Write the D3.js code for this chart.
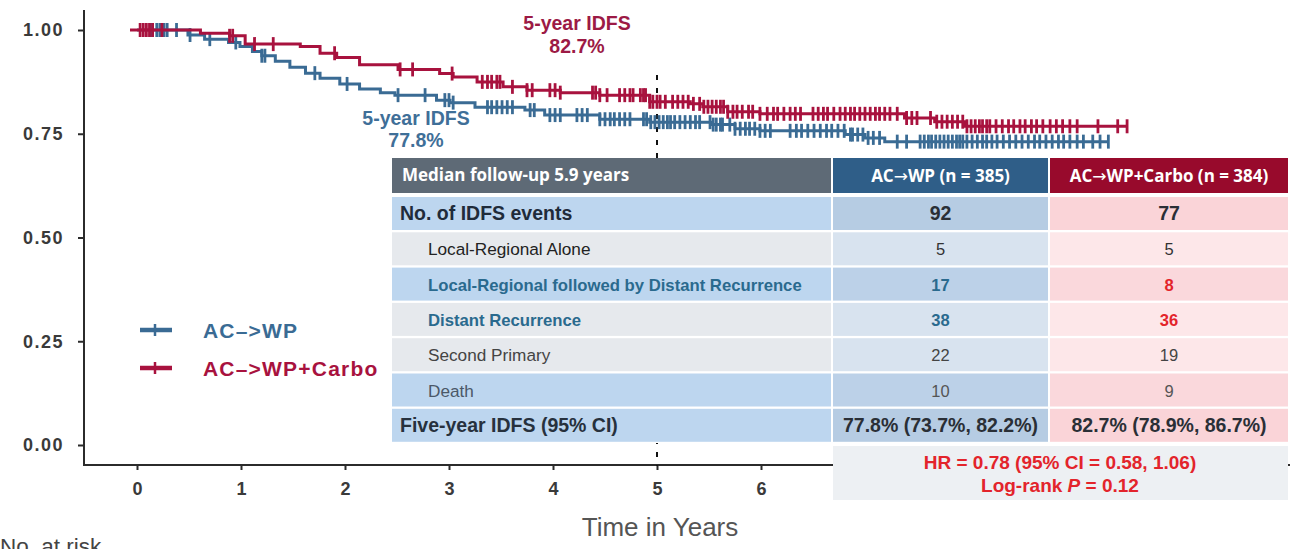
<!DOCTYPE html>
<html>
<head>
<meta charset="utf-8">
<script src="https://cdn.jsdelivr.net/npm/d3@7"></script>
<style>
  html, body { margin: 0; padding: 0; background: #fff; }
  svg { display: block; }
</style>
</head>
<body>
<svg id="chart" width="1294" height="549"></svg>
<script>
// Kaplan-Meier step points: times (years) where survival drops, and the new survival level
const stepTimesWP    = [0, 0.49, 0.65, 0.88, 0.99, 1.11, 1.20, 1.33, 1.47, 1.62, 1.76, 1.95, 2.14, 2.34, 2.48, 2.88, 3.01, 3.25, 3.73, 3.92, 4.45, 4.93, 5.53, 5.75, 5.99, 6.81, 7.00, 7.19];
const stepSurvWP     = [1.000, 0.988, 0.978, 0.970, 0.960, 0.948, 0.938, 0.925, 0.910, 0.896, 0.884, 0.870, 0.858, 0.849, 0.843, 0.831, 0.825, 0.814, 0.807, 0.795, 0.785, 0.778, 0.772, 0.762, 0.757, 0.748, 0.740, 0.731];
const stepTimesCarbo = [0, 0.61, 0.89, 1.04, 1.57, 1.76, 1.92, 2.14, 2.51, 2.91, 3.04, 3.27, 3.52, 3.75, 4.07, 4.45, 4.93, 5.32, 5.44, 5.68, 5.99, 7.38, 7.67, 7.96];
const stepSurvCarbo  = [1.000, 0.992, 0.986, 0.966, 0.960, 0.944, 0.934, 0.916, 0.905, 0.895, 0.887, 0.875, 0.863, 0.855, 0.849, 0.843, 0.827, 0.822, 0.815, 0.803, 0.798, 0.788, 0.779, 0.768];
const lastTimeWP = 9.34;
const lastTimeCarbo = 9.52;

// Censoring times (years)
const censorWP = [0.13, 0.15, 0.19, 0.22, 0.26, 0.29, 0.38, 0.51, 0.70, 0.95, 1.20, 1.23, 1.71, 2.02, 2.51, 2.77, 2.96, 3.00, 3.04,
  3.37, 3.41, 3.46, 3.51, 3.56, 3.61, 3.78, 3.82, 3.97, 4.02, 4.07, 4.23, 4.28, 4.33, 4.45, 4.50, 4.55, 4.59, 4.64, 4.69, 4.74,
  4.87, 4.90, 4.94, 4.98, 5.02, 5.06, 5.10, 5.13, 5.17, 5.22, 5.27, 5.32, 5.37, 5.41, 5.51, 5.54, 5.57, 5.61, 5.63, 5.70, 5.75,
  5.80, 5.85, 5.89, 5.94, 5.99, 6.04, 6.09, 6.28, 6.34, 6.39, 6.45, 6.51, 6.57, 6.63, 6.68, 6.74, 6.80, 6.86, 6.88, 6.93, 6.98,
  7.03, 7.08, 7.14, 7.31, 7.40, 7.53, 7.57, 7.61, 7.64, 7.68, 7.72, 7.76, 7.80, 7.84, 7.88, 7.91, 7.94, 7.98, 8.03, 8.08, 8.13,
  8.17, 8.22, 8.27, 8.33, 8.39, 8.45, 8.51, 8.57, 8.63, 8.68, 8.74, 8.80, 8.86, 8.91, 8.97, 9.04, 9.10, 9.19, 9.26];
const censorCarbo = [0.03, 0.06, 0.09, 0.12, 0.15, 0.24, 0.89, 0.92, 1.13, 1.31, 1.90, 2.53, 2.65, 3.03, 3.32, 3.37, 3.41, 3.46,
  3.49, 3.61, 3.75, 3.80, 3.97, 4.02, 4.07, 4.38, 4.41, 4.45, 4.52, 4.64, 4.69, 4.74, 4.77, 4.84, 4.87, 4.89, 4.93, 4.96, 5.00,
  5.03, 5.08, 5.15, 5.20, 5.25, 5.30, 5.35, 5.41, 5.45, 5.49, 5.53, 5.57, 5.61, 5.64, 5.68, 5.73, 5.77, 5.82, 5.88, 5.92, 5.99,
  6.06, 6.12, 6.16, 6.22, 6.28, 6.33, 6.38, 6.50, 6.55, 6.60, 6.64, 6.70, 6.76, 6.81, 6.86, 6.90, 6.95, 7.00, 7.05, 7.10, 7.14,
  7.19, 7.24, 7.31, 7.40, 7.45, 7.50, 7.63, 7.69, 7.74, 7.79, 7.84, 7.89, 7.94, 7.98, 8.02, 8.06, 8.10, 8.13, 8.17, 8.20, 8.26,
  8.32, 8.38, 8.43, 8.49, 8.54, 8.60, 8.65, 8.71, 8.78, 8.84, 8.90, 8.97, 9.04, 9.24, 9.43];

// Axis ticks
const xTicks = [0, 1, 2, 3, 4, 5, 6];
const yTicks = [0, 0.25, 0.50, 0.75, 1.00];

// Summary table
const tableTitle = "Median follow-up 5.9 years";
const armNames = ["AC\u2192WP (n = 385)", "AC\u2192WP+Carbo (n = 384)"];
const rowLabels = ["No. of IDFS events", "Local-Regional Alone", "Local-Regional followed by Distant Recurrence",
  "Distant Recurrence", "Second Primary", "Death", "Five-year IDFS (95% CI)"];
const valuesWP = ["92", "5", "17", "38", "22", "10", "77.8% (73.7%, 82.2%)"];
const valuesCarbo = ["77", "5", "8", "36", "19", "9", "82.7% (78.9%, 86.7%)"];
const legendLabels = ["AC\u2013>WP", "AC\u2013>WP+Carbo"];

const BLUE = "#3a6b94", RED = "#a8123e";
const svg = d3.select("#chart");
const sans = "'Liberation Sans', Arial, sans-serif";

const x = d3.scaleLinear().domain([0, 6]).range([137, 761]);
const y = d3.scaleLinear().domain([0, 1]).range([445, 30]);

// ---- axes ----
const axisColor = "#2b2b2b";
svg.append("line").attr("x1", 84).attr("x2", 84).attr("y1", 10).attr("y2", 466)
  .attr("stroke", axisColor).attr("stroke-width", 2);
svg.append("line").attr("x1", 83).attr("x2", 1290).attr("y1", 465).attr("y2", 465)
  .attr("stroke", axisColor).attr("stroke-width", 2);

const yAxis = svg.append("g").attr("transform", "translate(84,0)")
  .call(d3.axisLeft(y).tickValues(yTicks).tickFormat(d3.format(".2f")).tickSize(6).tickPadding(14));
const xAxis = svg.append("g").attr("transform", "translate(0,465)")
  .call(d3.axisBottom(x).tickValues(xTicks).tickFormat(d3.format("d")).tickSize(5).tickPadding(12));
[yAxis, xAxis].forEach(g => {
  g.select(".domain").remove();
  g.selectAll(".tick line").attr("stroke", axisColor).attr("stroke-width", 2);
  g.selectAll(".tick text").attr("fill", "#3a3a3a")
    .style("font-family", sans).style("font-weight", "bold").style("font-size", "18px");
});
yAxis.selectAll(".tick text").style("letter-spacing", "1.5px");

svg.append("text").attr("x", 660).attr("y", 536).attr("text-anchor", "middle")
  .attr("fill", "#555").style("font-family", sans).style("font-size", "26px").text("Time in Years");
svg.append("text").attr("x", 0).attr("y", 554)
  .attr("fill", "#444").style("font-family", sans).style("font-size", "22.5px").text("No. at risk");

// 5-year reference line
svg.append("line").attr("x1", x(5)).attr("x2", x(5)).attr("y1", 75).attr("y2", 466)
  .attr("stroke", "#111").attr("stroke-width", 2).attr("stroke-dasharray", "5,8");

// ---- survival curves ----
function drawArm(times, surv, lastT, censor, color) {
  const pts = times.map((t, i) => [t, surv[i]]);
  pts.push([lastT, surv[surv.length - 1]]);
  svg.append("path").datum(pts)
    .attr("d", d3.line().x(d => x(d[0])).y(d => y(d[1])).curve(d3.curveStepAfter))
    .attr("fill", "none").attr("stroke", color).attr("stroke-width", 3);
  const bis = d3.bisector(d => d).right;
  const survAt = t => surv[Math.max(0, bis(times, t) - 1)];
  svg.append("g").selectAll("line").data(censor.concat([lastT])).join("line")
    .attr("x1", d => x(d)).attr("x2", d => x(d))
    .attr("y1", d => y(survAt(d)) - 7).attr("y2", d => y(survAt(d)) + 7)
    .attr("stroke", color).attr("stroke-width", 2.8);
}
drawArm(stepTimesWP, stepSurvWP, lastTimeWP, censorWP, BLUE);
drawArm(stepTimesCarbo, stepSurvCarbo, lastTimeCarbo, censorCarbo, RED);
svg.append("line").attr("x1", 130).attr("x2", x(0)).attr("y1", y(1)).attr("y2", y(1))
  .attr("stroke", RED).attr("stroke-width", 3);

// 5-year annotations
function annot(cx, y1, y2, pct, color) {
  svg.append("text").attr("x", cx).attr("y", y1).attr("text-anchor", "middle").attr("fill", color)
    .style("font-family", sans).style("font-weight", "bold").style("font-size", "19.5px").text("5-year IDFS");
  svg.append("text").attr("x", cx).attr("y", y2).attr("text-anchor", "middle").attr("fill", color)
    .style("font-family", sans).style("font-weight", "bold").style("font-size", "19.5px").text(pct);
}
annot(577, 30, 53, "82.7%", "#9c1a45");
annot(416, 125, 147, "77.8%", "#3f6f98");

// ---- legend ----
[BLUE, RED].forEach((c, i) => {
  const ly = 330 + i * 38;
  svg.append("line").attr("x1", 140).attr("x2", 172).attr("y1", ly).attr("y2", ly)
    .attr("stroke", c).attr("stroke-width", 4.5);
  svg.append("line").attr("x1", 155).attr("x2", 155).attr("y1", ly - 6).attr("y2", ly + 6)
    .attr("stroke", c).attr("stroke-width", 2.5);
  svg.append("text").attr("x", 203).attr("y", ly + 8).attr("fill", c)
    .style("font-family", sans).style("font-weight", "bold").style("font-size", "21px")
    .style("letter-spacing", "1.2px").text(legendLabels[i]);
});

// ---- summary table ----
const hfont = "'Open Sans', 'Liberation Sans', sans-serif";
const c0 = 392, c1 = 833, c2 = 1050, cEnd = 1288;
const headTop = 158, headH = 35;
const rowTop = 197, rowPitch = 35.3, rowH = 33;

// white backing so the table hides the reference line
svg.append("rect").attr("x", c0).attr("y", headTop).attr("width", cEnd - c0).attr("height", 443 - headTop).attr("fill", "#fff");

svg.append("rect").attr("x", c0).attr("y", headTop).attr("width", c1 - c0 - 2).attr("height", headH).attr("fill", "#5e6a76");
svg.append("rect").attr("x", c1).attr("y", headTop).attr("width", c2 - c1 - 2).attr("height", headH).attr("fill", "#2f5e88");
svg.append("rect").attr("x", c2).attr("y", headTop).attr("width", cEnd - c2).attr("height", headH).attr("fill", "#980a2c");
svg.append("text").attr("x", 402).attr("y", headTop + 23).attr("fill", "#fff")
  .style("font-family", hfont).style("font-weight", "bold").style("font-size", "17px").text(tableTitle);
[[c1, c2 - 2], [c2, cEnd]].forEach((b, i) => {
  const parts = armNames[i].split("\u2192");
  const t = svg.append("text").attr("x", (b[0] + b[1]) / 2).attr("y", headTop + 24).attr("text-anchor", "middle")
    .attr("fill", "#fff").style("font-family", hfont).style("font-weight", "bold").style("font-size", "17px");
  t.append("tspan").text(parts[0]);
  t.append("tspan").style("font-family", "'DejaVu Sans', sans-serif").style("font-weight", "normal").text("\u2192");
  t.append("tspan").text(parts[1]);
});

// row styling: main rows vs. indented sub-rows, shade and text colours
const rowMain  = [true, false, false, false, false, false, true];
const rowShade = ["b", "g", "b", "g", "g", "b", "b"];
const labelCol = ["#1f2b3a", "#222", "#2a6a8e", "#2a6a8e", "#444", "#4b5868", "#27313d"];
const labelBold = [true, false, true, true, false, false, true];
const wpCol = ["#2a2f36", "#333", "#2a6a8e", "#2a6a8e", "#444", "#555", "#2a2f36"];
const carboCol = ["#2a2f36", "#333", "#e3242b", "#e3242b", "#444", "#555", "#2a2f36"];
const fill0 = { b: "#bdd6ef", g: "#e6e9ed" };
const fill1 = { b: "#bcd1e8", g: "#d8e3ef", m: "#b6cce3" };
const fill2 = { b: "#fad8dc", g: "#fde7e9", m: "#fad4d8" };

rowLabels.forEach((lab, i) => {
  const top = rowTop + i * rowPitch;
  const shade = rowMain[i] ? "m" : rowShade[i];
  svg.append("rect").attr("x", c0).attr("y", top).attr("width", c1 - c0 - 2).attr("height", rowH).attr("fill", fill0[rowShade[i]]);
  svg.append("rect").attr("x", c1).attr("y", top).attr("width", c2 - c1 - 2).attr("height", rowH).attr("fill", fill1[shade]);
  svg.append("rect").attr("x", c2).attr("y", top).attr("width", cEnd - c2).attr("height", rowH).attr("fill", fill2[shade]);
  const base = top + rowH / 2 + 6.5;
  const labSize = rowMain[i] ? "19.5px" : (labelBold[i] ? "16.7px" : "17.2px");
  svg.append("text").attr("x", rowMain[i] ? 400 : 428).attr("y", base).attr("fill", labelCol[i])
    .style("font-family", sans).style("font-weight", labelBold[i] ? "bold" : "normal")
    .style("font-size", labSize).text(lab);
  const vSize = rowMain[i] ? "19.5px" : "16.5px";
  const vBold = labelBold[i];
  svg.append("text").attr("x", (c1 + c2 - 2) / 2).attr("y", base).attr("text-anchor", "middle").attr("fill", wpCol[i])
    .style("font-family", sans).style("font-weight", vBold ? "bold" : "normal").style("font-size", vSize).text(valuesWP[i]);
  svg.append("text").attr("x", (c2 + cEnd) / 2).attr("y", base).attr("text-anchor", "middle").attr("fill", carboCol[i])
    .style("font-family", sans).style("font-weight", vBold ? "bold" : "normal").style("font-size", vSize).text(valuesCarbo[i]);
});

// hazard ratio box
svg.append("rect").attr("x", c1).attr("y", 446).attr("width", cEnd - c1).attr("height", 54).attr("fill", "#edf0f3");
const hrX = 1060;
svg.append("text").attr("x", hrX).attr("y", 469).attr("text-anchor", "middle").attr("fill", "#e3242b")
  .style("font-family", sans).style("font-weight", "bold").style("font-size", "19px")
  .text("HR = 0.78 (95% CI = 0.58, 1.06)");
const lr = svg.append("text").attr("x", hrX).attr("y", 492).attr("text-anchor", "middle").attr("fill", "#e3242b")
  .style("font-family", sans).style("font-weight", "bold").style("font-size", "19px");
lr.append("tspan").text("Log-rank ");
lr.append("tspan").style("font-style", "italic").text("P");
lr.append("tspan").text(" = 0.12");
</script>
</body>
</html>
